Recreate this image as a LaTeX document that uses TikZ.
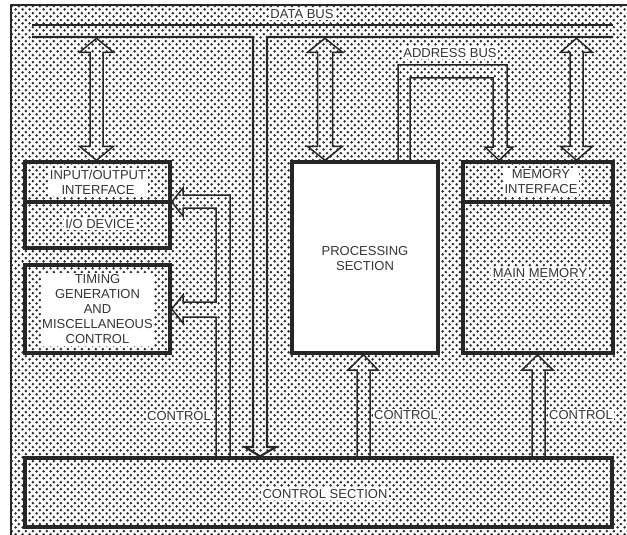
\documentclass[tikz,border=0pt]{standalone}
\usepackage{fontspec}
\setmainfont{Liberation Sans}
\usetikzlibrary{patterns.meta}
\definecolor{ink}{HTML}{262626}
\definecolor{dotc}{HTML}{2A2A2A}
\definecolor{txt}{HTML}{353535}
\tikzdeclarepattern{
  name=halftone,
  type=uncolored,
  bounding box={(0pt,0pt) and (7.2pt,7.2pt)},
  tile size={(7.2pt,7.2pt)},
  code={
    \fill (1.8pt,1.8pt) circle (1.55pt);
    \fill (5.4pt,5.4pt) circle (1.55pt);
  }
}
\tikzset{
  pics/dblarrow/.style n args={3}{code={
    \draw[pipe] (0,0) -- (-#2,-14) -- (-#1,-14) -- (-#1,{-#3+14}) -- (-#2,{-#3+14})
      -- (0,-#3) -- (#2,{-#3+14}) -- (#1,{-#3+14}) -- (#1,-14) -- (#2,-14) -- cycle;
  }}
}
\begin{document}
\begin{tikzpicture}[x=1pt,y=-1pt,
  box/.style={draw=ink, line width=3.4pt, rectangle, inner sep=0pt},
  lbl/.style={fill=white, text=txt, font=\fontsize{13}{15}\selectfont, align=center, inner sep=1.5pt},
  pipe/.style={draw=ink, line width=1.5pt, line join=miter},
  bus/.style={draw=ink, line width=2.1pt}]

\useasboundingbox (0,0) rectangle (627,535);
\fill[pattern=halftone, pattern color=dotc] (11,5) rectangle (627,535);
\draw[ink, line width=1.4pt] (11,535) -- (11,5) -- (627,5);

% boxes
\node[box, minimum width=145, minimum height=40] (iotop) at (97.5,182) {};
\node[box, minimum width=145, minimum height=46] (iodev) at (97.5,225) {};
\node[box, minimum width=145, minimum height=88] (timing) at (97.5,309) {};
\node[box, fill=white, minimum width=146, minimum height=191] (proc) at (365,257.5) {};
\node[box, minimum width=150, minimum height=40] (memif) at (538,182) {};
\node[box, minimum width=150, minimum height=151] (mainmem) at (538,277.5) {};
\node[box, minimum width=587, minimum height=69] (ctrl) at (318.5,492.5) {};

% labels
\node[lbl] (iotopl) at (98,182) {INPUT/OUTPUT\\INTERFACE};
\node[lbl] (iodevl) at (100,224) {I/O DEVICE};
\node[lbl] (timingl) at (97.5,309.5) {TIMING\\GENERATION\\AND\\MISCELLANEOUS\\CONTROL};
\node[lbl] (procl) at (365,259) {PROCESSING\\SECTION};
\node[lbl] (memifl) at (541,182) {MEMORY\\INTERFACE};
\node[lbl] (mainmeml) at (540,273) {MAIN MEMORY};
\node[lbl] (ctrll) at (325,494) {CONTROL SECTION};
\node[lbl] (databusl) at (302,14) {DATA BUS};
\node[lbl] (addrbusl) at (450,53) {ADDRESS BUS};
\node[lbl] (ctl1) at (179,416) {CONTROL};
\node[lbl] (ctl2) at (406,415) {CONTROL};
\node[lbl] (ctl3) at (581,415) {CONTROL};

% data bus
\coordinate (busW) at (32,25);
\coordinate (busE) at (613,25);
\coordinate (busW2) at (32,37);
\coordinate (busE2) at (613,37);
\draw[bus] (busW) -- (busE);
\draw[bus] (busW2) -- (253,37) -- (253,447) -- (245,447) -- ([xshift=-58.5pt]ctrl.north)
  -- (276,447) -- (267,447) -- (267,37) -- (busE2);

% data bus arrows
\pic at ([xshift=-1pt]iotop.north) {dblarrow={6.5}{17}{122}};
\pic at ([xshift=-40pt]proc.north) {dblarrow={7.5}{17.5}{122}};
\pic at ([xshift=38.5pt]memif.north) {dblarrow={6.5}{16}{122}};

% address bus
\draw[pipe] (398,161) -- (398,65) -- (507,65) -- (507,147) -- (513,147)
  -- ([xshift=-39pt]memif.north) -- (485,147) -- (493,147) -- (493,78) -- (410,78) -- (410,161);

% control to I/O and timing
\draw[pipe] (230,457) -- (230,195) -- (183,195) -- (183,188) -- ([yshift=1.7pt]iotop.south east)
  -- (183,216) -- (183,208) -- (216,208) -- (216,302) -- (183,302) -- (183,295)
  -- (timing.east) -- (183,323) -- (183,317) -- (216,317) -- (216,457);

% control to processing
\draw[pipe] (357,457) -- (357,370) -- (348,370) -- ([xshift=-1.5pt]proc.south)
  -- (378,370) -- (370,370) -- (370,457);

% control to memory
\draw[pipe] (532,457) -- (532,370) -- (522,370) -- ([xshift=-0.5pt]mainmem.south)
  -- (553,370) -- (545,370) -- (545,457);
\end{tikzpicture}
\end{document}
